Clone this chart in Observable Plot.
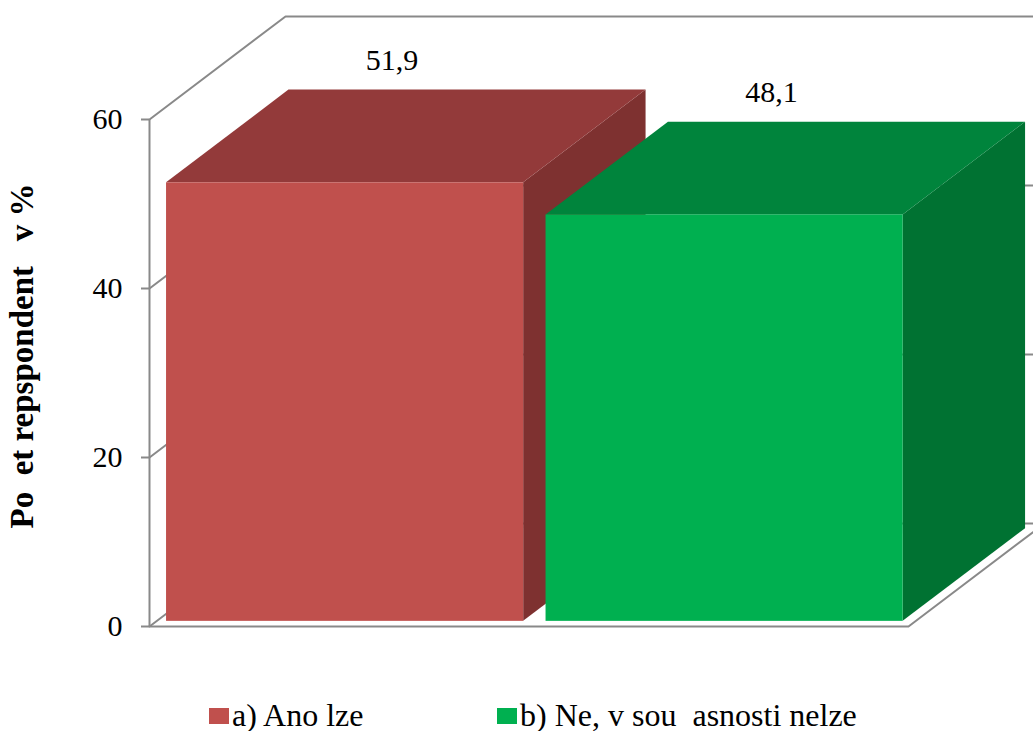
<!DOCTYPE html>
<html>
<head>
<meta charset="utf-8">
<script src="https://cdn.jsdelivr.net/npm/d3@7"></script>
<script src="https://cdn.jsdelivr.net/npm/@observablehq/plot@0.6"></script>
<style>
  html, body { margin: 0; padding: 0; background: #fff; overflow: hidden; }
  #chart { position: relative; width: 1033px; height: 731px; }
  .legend { position: relative; height: 30px; font-family: "Liberation Serif", "Times New Roman", serif; font-size: 32px; line-height: 30px; color: #000; white-space: pre; }
  .legend .item { position: absolute; top: 0; }
  .legend .sw { display: inline-block; width: 20px; height: 16px; vertical-align: 2px; margin-right: 3px; }
</style>
</head>
<body>
<div id="chart"></div>
<script>
// Survey answers (percent of respondents)
const categories = ["a) Ano lze", "b) Ne, v sou\u00a0 asnosti nelze"];
const values = [51.9, 48.1];
const valueLabels = ["51,9", "48,1"];
const yTicks = [0, 20, 40, 60];
const yTitle = "Po\u00a0 et repspondent\u00a0\u00a0 v %";

const frontColors = ["#C0504D", "#00B050"];
const topColors = ["#933a3a", "#00843c"];
const sideColors = ["#7e3130", "#007232"];

// Oblique projection of the chart box: depth offsets expressed in data units
const DX = 0.3584;   // x-units per full depth
const DY = 12.19;    // y-units per full depth
const ZF = 0.05, ZB = 0.95;   // front and back planes of each bar
const BAR_L = 0.027, BAR_R = 0.968;  // bar extent within its category slot
const gridColor = "#898989";
const font = '"Liberation Serif", "Times New Roman", serif';

const bars = values.map((v, i) => ({i, v, label: valueLabels[i], x1: i + BAR_L, x2: i + BAR_R}));

// Wall gridlines: side wall diagonal then along the back wall
const grid = yTicks.flatMap(t => [
  {t, x: 0, y: t},
  {t, x: DX, y: t + DY},
  {t, x: categories.length + DX, y: t + DY}
]);
const floorEdge = [
  {x: 0, y: 0},
  {x: categories.length, y: 0},
  {x: categories.length + DX, y: DY}
];

function barMarks(b) {
  const side = [
    {x: b.x2 + ZF * DX, y1: ZF * DY, y2: b.v + ZF * DY},
    {x: b.x2 + ZB * DX, y1: ZB * DY, y2: b.v + ZB * DY}
  ];
  const top = [
    {y: b.v + ZF * DY, x1: b.x1 + ZF * DX, x2: b.x2 + ZF * DX},
    {y: b.v + ZB * DY, x1: b.x1 + ZB * DX, x2: b.x2 + ZB * DX}
  ];
  return [
    Plot.areaY(side, {x: "x", y1: "y1", y2: "y2", fill: sideColors[b.i]}),
    Plot.areaX(top, {y: "y", x1: "x1", x2: "x2", fill: topColors[b.i]}),
    Plot.rect([b], {
      x1: d => d.x1 + ZF * DX, x2: d => d.x2 + ZF * DX,
      y1: () => ZF * DY, y2: d => d.v + ZF * DY,
      fill: frontColors[b.i]
    })
  ];
}

const chart = Plot.plot({
  width: 1033,
  height: 700,
  marginLeft: 149,
  marginRight: 125,
  marginTop: 119,
  marginBottom: 74,
  style: {fontFamily: font, fontSize: "30px", color: "#000", background: "#fff", overflow: "visible"},
  x: {domain: [0, categories.length], axis: null},
  y: {domain: [0, 60], axis: null},
  marks: [
    Plot.line(grid, {x: "x", y: "y", z: "t", stroke: gridColor, strokeWidth: 2}),
    Plot.line(floorEdge, {x: "x", y: "y", stroke: gridColor, strokeWidth: 2}),
    Plot.ruleX([0], {y1: 0, y2: 60, stroke: gridColor, strokeWidth: 2}),
    Plot.axisY({ticks: yTicks, tickSize: 8, tickPadding: 19, stroke: gridColor, strokeWidth: 2, fill: "#000", fontSize: 30, label: null}),
    ...bars.flatMap(barMarks),
    Plot.text(bars, {
      x: d => (d.x1 + d.x2) / 2 + ZF * DX,
      y: d => d.v + ZF * DY,
      text: "label",
      dx: 47, dy: -113,
      lineAnchor: "bottom",
      fontSize: 30,
      fill: "#000"
    }),
    Plot.text([yTitle], {
      frameAnchor: "left",
      textAnchor: "middle",
      rotate: -90,
      dx: -127, dy: -17,
      fontSize: 33,
      fontWeight: "bold",
      fill: "#000"
    })
  ]
});

const root = document.getElementById("chart");
root.appendChild(chart);

// Legend below the chart
const legend = document.createElement("div");
legend.className = "legend";
const legendX = [209, 497];
categories.forEach((c, i) => {
  const item = document.createElement("span");
  item.className = "item";
  item.style.left = legendX[i] + "px";
  const sw = document.createElement("span");
  sw.className = "sw";
  sw.style.background = frontColors[i];
  item.appendChild(sw);
  item.appendChild(document.createTextNode(c));
  legend.appendChild(item);
});
root.appendChild(legend);
</script>
</body>
</html>
